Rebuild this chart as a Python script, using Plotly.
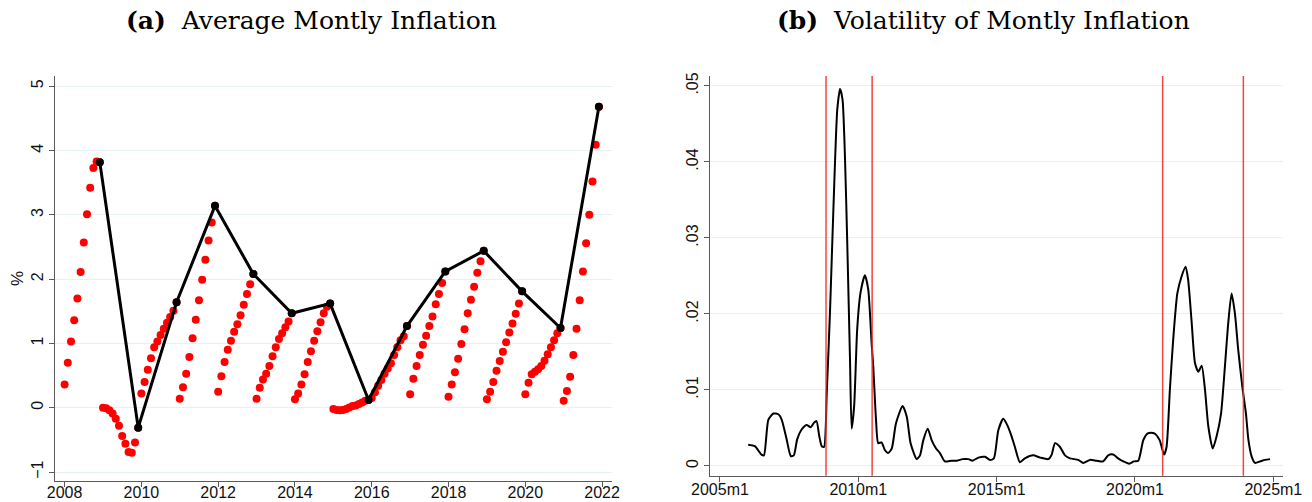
import plotly.graph_objects as go

# ---- Panel (a): cumulative inflation within each year, monthly (%) ----
years = list(range(2008, 2022))
cum_2008 = [0.36, 0.70, 1.03, 1.36, 1.70, 2.11, 2.57, 3.01, 3.42, 3.73, 3.83, 3.82]
cum_2009 = [0.00, -0.01, -0.04, -0.09, -0.17, -0.28, -0.44, -0.56, -0.69, -0.70, -0.54, -0.31]
cum_2010 = [0.22, 0.40, 0.59, 0.77, 0.94, 1.03, 1.13, 1.23, 1.32, 1.41, 1.51, 1.64]
cum_2011 = [0.14, 0.32, 0.53, 0.79, 1.08, 1.37, 1.67, 1.99, 2.30, 2.60, 2.88, 3.14]
cum_2012 = [0.25, 0.49, 0.71, 0.90, 1.04, 1.18, 1.30, 1.44, 1.60, 1.77, 1.92, 2.08]
cum_2013 = [0.14, 0.31, 0.44, 0.53, 0.65, 0.80, 0.94, 1.07, 1.16, 1.25, 1.34, 1.47]
cum_2014 = [0.13, 0.22, 0.36, 0.52, 0.71, 0.88, 1.04, 1.19, 1.33, 1.47, 1.57, 1.62]
cum_2015 = [-0.02, -0.035, -0.04, -0.035, -0.02, 0.005, 0.026, 0.036, 0.057, 0.08, 0.11, 0.12]
cum_2016 = [0.15, 0.24, 0.34, 0.43, 0.53, 0.61, 0.69, 0.82, 0.94, 1.05, 1.11, 1.27]
cum_2017 = [0.21, 0.45, 0.65, 0.82, 0.98, 1.12, 1.27, 1.42, 1.61, 1.77, 1.94, 2.12]
cum_2018 = [0.17, 0.36, 0.55, 0.76, 0.99, 1.22, 1.47, 1.68, 1.88, 2.10, 2.28, 2.44]
cum_2019 = [0.13, 0.25, 0.40, 0.575, 0.725, 0.87, 1.02, 1.17, 1.31, 1.46, 1.62, 1.81]
cum_2020 = [0.21, 0.39, 0.52, 0.56, 0.60, 0.65, 0.73, 0.83, 0.94, 1.05, 1.16, 1.24]
cum_2021 = [0.11, 0.26, 0.48, 0.82, 1.23, 1.67, 2.12, 2.56, 3.00, 3.52, 4.09, 4.68]
cumulative = [cum_2008, cum_2009, cum_2010, cum_2011, cum_2012, cum_2013, cum_2014,
              cum_2015, cum_2016, cum_2017, cum_2018, cum_2019, cum_2020, cum_2021]

a_xticks = [2008, 2010, 2012, 2014, 2016, 2018, 2020, 2022]
a_yticks = [-1, 0, 1, 2, 3, 4, 5]

# ---- Panel (b): volatility of monthly inflation ----
vol_time = [2006.02, 2006.26, 2006.50, 2006.59, 2006.75, 2006.93, 2007.11, 2007.23, 2007.41,
            2007.56, 2007.67, 2007.79, 2007.95, 2008.13, 2008.28, 2008.40, 2008.49, 2008.59,
            2008.68, 2008.76, 2008.86, 2008.98, 2009.10, 2009.24, 2009.34, 2009.43, 2009.52,
            2009.60, 2009.70, 2009.76, 2009.85, 2009.96, 2010.08, 2010.24, 2010.36, 2010.48,
            2010.54, 2010.64, 2010.72, 2010.84, 2010.96, 2011.08, 2011.21, 2011.36, 2011.60,
            2011.75, 2011.89, 2012.11, 2012.23, 2012.35, 2012.51, 2012.65, 2012.81, 2012.95,
            2013.13, 2013.37, 2013.57, 2013.77, 2013.98, 2014.13, 2014.34, 2014.58, 2014.76,
            2014.90, 2015.06, 2015.24, 2015.38, 2015.54, 2015.66, 2015.84, 2016.02, 2016.32,
            2016.57, 2016.87, 2016.99, 2017.11, 2017.29, 2017.47, 2017.65, 2017.95, 2018.13,
            2018.37, 2018.61, 2018.85, 2019.03, 2019.21, 2019.39, 2019.58, 2019.79, 2019.96,
            2020.12, 2020.30, 2020.46, 2020.70, 2020.89, 2021.05, 2021.14, 2021.26, 2021.38,
            2021.53, 2021.68, 2021.83, 2021.92, 2022.05, 2022.17, 2022.29, 2022.41, 2022.53,
            2022.65, 2022.81, 2022.95, 2023.11, 2023.25, 2023.37, 2023.49, 2023.61, 2023.73,
            2023.88, 2024.01, 2024.10, 2024.22, 2024.34, 2024.52, 2024.70, 2024.88]
vol_value = [0.0028, 0.0026, 0.0015, 0.0014, 0.0061, 0.0069, 0.0068, 0.0061, 0.0035,
             0.0013, 0.0014, 0.0035, 0.0048, 0.0054, 0.0051, 0.0057, 0.0059, 0.0039,
             0.0026, 0.0025, 0.0096, 0.0206, 0.0338, 0.0469, 0.0496, 0.0482, 0.0404,
             0.0294, 0.0140, 0.0049, 0.0079, 0.0180, 0.0228, 0.0251, 0.0232, 0.0162,
             0.0131, 0.0061, 0.0030, 0.0031, 0.0021, 0.0017, 0.0023, 0.0056, 0.0079,
             0.0065, 0.0030, 0.0009, 0.0014, 0.0034, 0.0049, 0.0034, 0.0023, 0.0017,
             0.0006, 0.0007, 0.0007, 0.0009, 0.0009, 0.0007, 0.0011, 0.0012, 0.0008,
             0.0010, 0.0047, 0.0062, 0.0054, 0.0039, 0.0025, 0.0005, 0.0010, 0.0014,
             0.0011, 0.0009, 0.0015, 0.0030, 0.0025, 0.0014, 0.0010, 0.0008, 0.0004,
             0.0008, 0.0007, 0.0006, 0.0014, 0.0015, 0.0010, 0.0006, 0.0003, 0.0006,
             0.0007, 0.0034, 0.0043, 0.0043, 0.0034, 0.0015, 0.0025, 0.0100, 0.0166,
             0.0227, 0.0249, 0.0262, 0.0245, 0.0188, 0.0135, 0.0124, 0.0132, 0.0100,
             0.0052, 0.0023, 0.0039, 0.0069, 0.0131, 0.0188, 0.0227, 0.0201, 0.0153,
             0.0104, 0.0069, 0.0034, 0.0012, 0.0004, 0.0006, 0.0008, 0.0009]
event_months = ["2008m11", "2010m7", "2021m1", "2023m12"]

b_xticks = [2005, 2010, 2015, 2020, 2025]
b_xlabels = ["2005m1", "2010m1", "2015m1", "2020m1", "2025m1"]
b_yticks = [0, 0.01, 0.02, 0.03, 0.04, 0.05]
b_ylabels = ["0", ".01", ".02", ".03", ".04", ".05"]


def month_to_year(label):
    y, m = label.split("m")
    return int(y) + (int(m) - 1) / 12.0


W, H = 1312, 502
AXIS = "#5a5a5a"
GRID = "#e9f0f1"
TICKFONT = dict(family="Liberation Sans, Arial, sans-serif", size=16, color="#111")

fig = go.Figure()

# red monthly dots
dot_x, dot_y = [], []
for yr, vals in zip(years, cumulative):
    for m, v in enumerate(vals):
        dot_x.append(yr + m / 12.0)
        dot_y.append(v)
fig.add_trace(go.Scatter(x=dot_x, y=dot_y, mode="markers", xaxis="x", yaxis="y",
                         marker=dict(color="#ff0000", size=8, line=dict(width=0)),
                         showlegend=False, hoverinfo="skip"))

# black December (annual) line
dec_x = [yr + 11 / 12.0 for yr in years]
dec_y = [vals[-1] for vals in cumulative]
fig.add_trace(go.Scatter(x=dec_x, y=dec_y, mode="lines+markers", xaxis="x", yaxis="y",
                         line=dict(color="black", width=3),
                         marker=dict(color="black", size=8),
                         showlegend=False, hoverinfo="skip"))

# volatility curve
fig.add_trace(go.Scatter(x=vol_time, y=vol_value, mode="lines", xaxis="x2", yaxis="y2",
                         line=dict(color="black", width=2, shape="spline", smoothing=0.6),
                         showlegend=False, hoverinfo="skip"))

# vertical event lines
for lab in event_months:
    xv = month_to_year(lab)
    fig.add_shape(type="line", xref="x2", yref="y2 domain", x0=xv, x1=xv, y0=0, y1=1,
                  line=dict(color="rgba(240,50,50,0.9)", width=1.5), layer="above")


def px_dom(a, b, total):
    return [a / total, b / total]


fig.update_layout(
    width=W, height=H,
    margin=dict(l=0, r=0, t=0, b=0),
    paper_bgcolor="white", plot_bgcolor="white",
    xaxis=dict(domain=px_dom(55, 611.7, W), range=[2007.75, 2022.25], automargin=False,
               tickvals=a_xticks, ticks="outside", ticklen=5, tickcolor=AXIS,
               ticklabelstandoff=-8,
               showline=True, linecolor=AXIS, linewidth=1, showgrid=False, zeroline=False,
               tickfont=TICKFONT, anchor="y"),
    yaxis=dict(domain=[1 - 480.7 / H, 1 - 76 / H], range=[-1.135, 5.16], automargin=False,
               tickvals=a_yticks, ticktext=[str(t) if t >= 0 else "\u22121" for t in a_yticks],
               ticks="outside", ticklen=5, tickcolor=AXIS, tickangle=-90,
               showline=True, linecolor=AXIS, linewidth=1,
               showgrid=True, gridcolor=GRID, gridwidth=1, zeroline=False,
               tickfont=TICKFONT, anchor="x",
               title=dict(text="%", font=dict(family="Liberation Sans, Arial, sans-serif",
                                               size=17, color="#111"), standoff=0)),
    xaxis2=dict(domain=px_dom(710, 1283.3, W), range=[2004.64, 2025.36], automargin=False,
                tickvals=b_xticks, ticktext=b_xlabels, ticks="outside", ticklen=5,
                ticklabelstandoff=-6,
                tickcolor=AXIS, showline=True, linecolor=AXIS, linewidth=1,
                showgrid=False, zeroline=False, tickfont=TICKFONT, anchor="y2"),
    yaxis2=dict(domain=[1 - 475.7 / H, 1 - 76 / H], range=[-0.00128, 0.0513], automargin=False,
                tickvals=b_yticks, ticktext=b_ylabels, ticks="outside", ticklen=5,
                tickcolor=AXIS, tickangle=-90, showline=True, linecolor=AXIS, linewidth=1,
                showgrid=True, gridcolor=GRID, gridwidth=1, zeroline=False,
                tickfont=TICKFONT, anchor="x2"),
)

TITLEFONT = dict(family="DejaVu Serif, Liberation Serif, serif", size=25, color="black")
fig.add_annotation(text="<b>(a)</b>  Average Montly Inflation", xref="paper", yref="paper",
                   x=311 / W, y=1 - 21 / H, xanchor="center", yanchor="middle",
                   showarrow=False, font=TITLEFONT)
fig.add_annotation(text="<b>(b)</b>  Volatility of Montly Inflation", xref="paper", yref="paper",
                   x=983 / W, y=1 - 21 / H, xanchor="center", yanchor="middle",
                   showarrow=False, font=TITLEFONT)

fig.write_html("out.html")
